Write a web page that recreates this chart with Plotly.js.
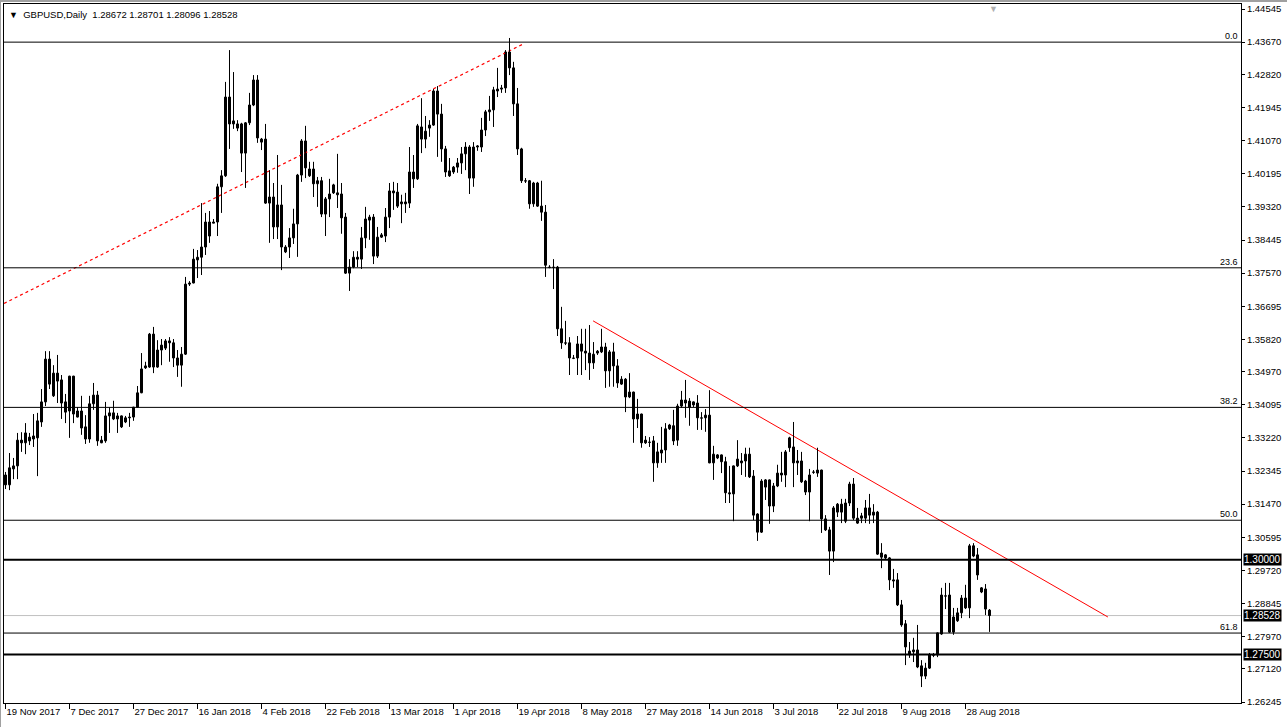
<!DOCTYPE html>
<html><head><meta charset="utf-8">
<script src="https://cdn.plot.ly/plotly-3.0.1.min.js"></script>
<style>
html,body{margin:0;padding:0;background:#fff;}
#wrap{position:relative;width:1287px;height:727px;overflow:hidden;}
#chart{position:absolute;left:0;top:0;width:1287px;height:727px;}
#frame{position:absolute;left:0;top:0;width:1287px;height:727px;box-sizing:border-box;border-top:2px solid #a0a0a0;border-left:1px solid #a0a0a0;pointer-events:none;}
</style></head>
<body><div id="wrap"><div id="chart"></div><div id="frame"></div></div>
<script>
const opens = [1.3224,1.3198,1.3240,1.3248,1.3316,1.3309,1.3314,1.3319,1.3322,1.3364,1.3417,1.3530,1.3433,1.3493,1.3475,1.3417,1.3393,1.3485,1.3377,1.3393,1.3351,1.3319,1.3412,1.3435,1.3309,1.3314,1.3380,1.3388,1.3372,1.3380,1.3364,1.3377,1.3377,1.3403,1.3441,1.3512,1.3509,1.3596,1.3509,1.3554,1.3559,1.3578,1.3573,1.3533,1.3514,1.3543,1.3731,1.3731,1.3792,1.3799,1.3826,1.3892,1.3892,1.3892,1.3985,1.4014,1.4222,1.4151,1.4140,1.4151,1.4074,1.4154,1.4201,1.4267,1.4103,1.4111,1.3942,1.3958,1.3879,1.3937,1.3813,1.3826,1.3850,1.3887,1.4016,1.4106,1.4014,1.4032,1.3993,1.4001,1.3913,1.3953,1.3990,1.3969,1.3966,1.3905,1.3757,1.3773,1.3799,1.3794,1.3850,1.3897,1.3905,1.3802,1.3852,1.3855,1.3905,1.3974,1.3971,1.3940,1.3945,1.3942,1.4024,1.4006,1.4143,1.4111,1.4140,1.4148,1.4238,1.4177,1.4085,1.4027,1.4024,1.4037,1.4048,1.4072,1.4090,1.4008,1.4090,1.4090,1.4135,1.4183,1.4188,1.4243,1.4243,1.4246,1.4341,1.4299,1.4204,1.4085,1.4001,1.4001,1.3940,1.3995,1.3934,1.3918,1.3773,1.3773,1.3773,1.3610,1.3573,1.3573,1.3533,1.3533,1.3570,1.3551,1.3546,1.3520,1.3546,1.3549,1.3562,1.3499,1.3549,1.3512,1.3464,1.3477,1.3430,1.3443,1.3372,1.3385,1.3316,1.3311,1.3314,1.3256,1.3282,1.3290,1.3346,1.3354,1.3316,1.3406,1.3422,1.3419,1.3417,1.3414,1.3375,1.3375,1.3382,1.3256,1.3269,1.3277,1.3259,1.3174,1.3174,1.3248,1.3256,1.3261,1.3279,1.3221,1.3121,1.3073,1.3192,1.3211,1.3142,1.3195,1.3229,1.3224,1.3322,1.3298,1.3256,1.3261,1.3208,1.3179,1.3232,1.3229,1.3237,1.3108,1.3079,1.3023,1.3126,1.3147,1.3102,1.3150,1.3200,1.3110,1.3116,1.3110,1.3137,1.3118,1.3126,1.3018,1.3013,1.3005,1.2947,1.2947,1.2881,1.2831,1.2749,1.2757,1.2762,1.2720,1.2693,1.2714,1.2749,1.2749,1.2804,1.2905,1.2907,1.2809,1.2839,1.2860,1.2899,1.2873,1.3037,1.3013,1.2915,1.2923,1.28672];
const highs = [1.3232,1.3282,1.3269,1.3335,1.3337,1.3361,1.3335,1.3385,1.3388,1.3451,1.3551,1.3551,1.3514,1.3541,1.3488,1.3438,1.3486,1.3486,1.3403,1.3433,1.3382,1.3433,1.3467,1.3446,1.3327,1.3417,1.3403,1.3420,1.3388,1.3381,1.3380,1.3388,1.3404,1.3459,1.3546,1.3523,1.3599,1.3615,1.3580,1.3583,1.3583,1.3588,1.3583,1.3554,1.3562,1.3747,1.3736,1.3821,1.3818,1.3942,1.3916,1.3921,1.3900,1.3993,1.4029,1.4262,1.4346,1.4288,1.4161,1.4154,1.4156,1.4233,1.4280,1.4280,1.4114,1.4151,1.4029,1.3995,1.4069,1.3990,1.3831,1.3876,1.3927,1.4019,1.4111,1.4146,1.4051,1.4051,1.4011,1.4011,1.3958,1.4006,1.3993,1.4072,1.3995,1.3916,1.3794,1.3815,1.3815,1.3879,1.3932,1.3911,1.3913,1.3879,1.3863,1.3929,1.3995,1.3998,1.3995,1.3964,1.3969,1.4090,1.4069,1.4151,1.4219,1.4172,1.4161,1.4243,1.4251,1.4204,1.4093,1.4061,1.4040,1.4061,1.4090,1.4103,1.4095,1.4103,1.4095,1.4167,1.4188,1.4225,1.4249,1.4299,1.4254,1.4346,1.4378,1.4315,1.4246,1.4088,1.4008,1.4003,1.3998,1.3998,1.4001,1.3937,1.3778,1.3794,1.3776,1.3668,1.3631,1.3588,1.3541,1.3591,1.3610,1.3610,1.3620,1.3575,1.3554,1.3610,1.3573,1.3554,1.3573,1.3530,1.3485,1.3480,1.3493,1.3444,1.3425,1.3386,1.3327,1.3324,1.3327,1.3309,1.3351,1.3361,1.3359,1.3396,1.3412,1.3446,1.3475,1.3427,1.3418,1.3435,1.3390,1.3398,1.3448,1.3301,1.3279,1.3278,1.3272,1.3248,1.3249,1.3316,1.3282,1.3296,1.3296,1.3237,1.3123,1.3213,1.3213,1.3212,1.3203,1.3251,1.3285,1.3290,1.3325,1.3364,1.3290,1.3285,1.3211,1.3240,1.3237,1.3296,1.3238,1.3118,1.3087,1.3142,1.3150,1.3161,1.3161,1.3206,1.3216,1.3137,1.3124,1.3158,1.3174,1.3147,1.3129,1.3044,1.3015,1.3007,1.2976,1.2965,1.2894,1.2841,1.2783,1.2794,1.2828,1.2735,1.2728,1.2754,1.2754,1.2808,1.2926,1.2939,1.2939,1.2873,1.2873,1.2907,1.2934,1.3042,1.3044,1.3031,1.2928,1.2936,1.28701];
const lows = [1.3187,1.3184,1.3213,1.3213,1.3285,1.3279,1.3303,1.3298,1.3221,1.3351,1.3406,1.3451,1.3430,1.3414,1.3372,1.3361,1.3322,1.3361,1.3376,1.3330,1.3306,1.3309,1.3396,1.3301,1.3308,1.3309,1.3335,1.3369,1.3335,1.3348,1.3361,1.3351,1.3367,1.3401,1.3440,1.3504,1.3507,1.3493,1.3507,1.3514,1.3554,1.3523,1.3509,1.3483,1.3457,1.3541,1.3723,1.3730,1.3744,1.3752,1.3805,1.3837,1.3889,1.3855,1.3916,1.4011,1.4085,1.4138,1.4132,1.4024,1.3982,1.4148,1.4198,1.4101,1.4082,1.3940,1.3837,1.3847,1.3847,1.3765,1.3810,1.3797,1.3834,1.3800,1.3998,1.4008,1.4011,1.3958,1.3932,1.3905,1.3855,1.3905,1.3966,1.3929,1.3861,1.3755,1.3710,1.3770,1.3773,1.3768,1.3823,1.3845,1.3781,1.3797,1.3850,1.3839,1.3876,1.3924,1.3929,1.3889,1.3916,1.3929,1.3982,1.4003,1.4074,1.4087,1.4117,1.4146,1.4064,1.4051,1.4011,1.4011,1.4019,1.4022,1.4019,1.4029,1.3966,1.3985,1.4080,1.4077,1.4119,1.4159,1.4143,1.4222,1.4233,1.4233,1.4280,1.4172,1.4069,1.3995,1.3995,1.3927,1.3932,1.3932,1.3895,1.3747,1.3770,1.3715,1.3591,1.3557,1.3567,1.3488,1.3530,1.3488,1.3488,1.3501,1.3475,1.3504,1.3541,1.3546,1.3454,1.3457,1.3457,1.3454,1.3462,1.3390,1.3427,1.3309,1.3348,1.3296,1.3306,1.3298,1.3206,1.3243,1.3256,1.3256,1.3343,1.3303,1.3301,1.3401,1.3375,1.3354,1.3403,1.3343,1.3343,1.3338,1.3255,1.3211,1.3266,1.3229,1.3150,1.3150,1.3102,1.3245,1.3224,1.3219,1.3216,1.3105,1.3050,1.3071,1.3158,1.3095,1.3126,1.3192,1.3206,1.3192,1.3285,1.3192,1.3224,1.3203,1.3171,1.3102,1.3227,1.3219,1.3071,1.3076,1.2960,1.2994,1.3113,1.3097,1.3097,1.3142,1.3105,1.3095,1.3097,1.3097,1.3095,1.3097,1.3013,1.2978,1.3002,1.2920,1.2926,1.2878,1.2823,1.2722,1.2741,1.2730,1.2714,1.2664,1.2685,1.2712,1.2743,1.2743,1.2802,1.2870,1.2807,1.2802,1.2836,1.2846,1.2870,1.2846,1.3007,1.2947,1.2912,1.2854,1.28096];
const closes = [1.3198,1.3243,1.3248,1.3316,1.3309,1.3335,1.3324,1.3327,1.3367,1.3417,1.3530,1.3464,1.3493,1.3472,1.3414,1.3390,1.3485,1.3385,1.3393,1.3348,1.3319,1.3412,1.3435,1.3314,1.3316,1.3380,1.3388,1.3372,1.3380,1.3351,1.3375,1.3375,1.3403,1.3441,1.3504,1.3507,1.3596,1.3509,1.3554,1.3567,1.3578,1.3573,1.3533,1.3514,1.3543,1.3728,1.3728,1.3794,1.3799,1.3826,1.3892,1.3855,1.3889,1.3985,1.4014,1.4222,1.4151,1.4159,1.4151,1.4074,1.4154,1.4201,1.4267,1.4114,1.4111,1.3942,1.3958,1.3879,1.3937,1.3826,1.3826,1.3850,1.3887,1.4016,1.4106,1.4035,1.4032,1.3993,1.4001,1.3913,1.3953,1.3966,1.3969,1.3964,1.3903,1.3757,1.3773,1.3799,1.3794,1.3850,1.3900,1.3905,1.3802,1.3852,1.3858,1.3905,1.3974,1.3969,1.3934,1.3945,1.3940,1.4024,1.4006,1.4146,1.4111,1.4132,1.4148,1.4238,1.4177,1.4085,1.4024,1.4014,1.4037,1.4048,1.4072,1.4090,1.4008,1.4090,1.4093,1.4135,1.4183,1.4188,1.4241,1.4238,1.4246,1.4341,1.4299,1.4204,1.4085,1.4001,1.4000,1.3940,1.3995,1.3934,1.3918,1.3778,1.3772,1.3772,1.3610,1.3573,1.3572,1.3533,1.3532,1.3570,1.3551,1.3546,1.3520,1.3543,1.3551,1.3562,1.3499,1.3549,1.3512,1.3467,1.3477,1.3430,1.3443,1.3372,1.3385,1.3309,1.3309,1.3310,1.3256,1.3285,1.3290,1.3346,1.3356,1.3314,1.3406,1.3422,1.3414,1.3403,1.3409,1.3375,1.3374,1.3382,1.3256,1.3279,1.3277,1.3259,1.3177,1.3177,1.3248,1.3266,1.3261,1.3279,1.3219,1.3118,1.3073,1.3208,1.3211,1.3142,1.3195,1.3229,1.3224,1.3285,1.3296,1.3256,1.3261,1.3206,1.3179,1.3224,1.3231,1.3237,1.3108,1.3079,1.3023,1.3137,1.3147,1.3126,1.3150,1.3200,1.3110,1.3097,1.3110,1.3137,1.3118,1.3126,1.3015,1.3007,1.3005,1.2947,1.2944,1.2881,1.2828,1.2770,1.2759,1.2762,1.2717,1.2693,1.2714,1.2749,1.2748,1.2807,1.2907,1.2904,1.2809,1.2849,1.2860,1.2899,1.2873,1.3037,1.3010,1.2960,1.2926,1.2870,1.28528];

const dateLabels = ['19 Nov 2017','7 Dec 2017','27 Dec 2017','16 Jan 2018','4 Feb 2018','22 Feb 2018','13 Mar 2018','1 Apr 2018','19 Apr 2018','8 May 2018','27 May 2018','14 Jun 2018','3 Jul 2018','22 Jul 2018','9 Aug 2018','28 Aug 2018'];
const dateBars = [0,16,32,48,64,80,96,112,128,144,160,176,192,208,224,240];
const priceTicks = [1.44545,1.43670,1.42820,1.41945,1.41070,1.40195,1.39320,1.38445,1.37570,1.36695,1.35820,1.34970,1.34095,1.33220,1.32345,1.31470,1.30595,1.29720,1.28845,1.27970,1.27120,1.26245];
const fibNames = ['0.0','23.6','38.2','50.0','61.8'];
const fibPrices = [1.43670,1.37711,1.34025,1.31045,1.28066];
const roundLevels = [1.30000,1.27500];
const lastPrice = 1.28528;
const upTrendX = [-0.375,129.4], upTrendY = [1.3677,1.4362];
const downTrendX = [146.9,275.6], downTrendY = [1.3631,1.2849];
const symbolText = 'GBPUSD,Daily';

const idx = opens.map((_, i) => i);
const wx = [], wy = [];
idx.forEach(i => { wx.push(i, i, null); wy.push(lows[i], highs[i], null); });
const base = idx.map(i => Math.min(opens[i], closes[i]));
const hgt = idx.map(i => Math.max(Math.abs(closes[i] - opens[i]), 0.00002));
const fill = idx.map(i => closes[i] >= opens[i] ? '#ffffff' : '#000000');

const traces = [
  {type:'scatter', mode:'lines', x:upTrendX, y:upTrendY, line:{color:'#ff0000', width:1.2, dash:'dot'}, hoverinfo:'skip'},
  {type:'scatter', mode:'lines', x:downTrendX, y:downTrendY, line:{color:'#ff0000', width:1}, hoverinfo:'skip'},
  {type:'scatter', mode:'lines', x:wx, y:wy, line:{color:'#000000', width:1}, hoverinfo:'skip', connectgaps:false},
  {type:'bar', x:idx, base:base, y:hgt, width:0.5, marker:{color:fill, line:{color:'#000000', width:1}}, hoverinfo:'skip'}
];

const shapes = [];
fibPrices.forEach(p => shapes.push({type:'line', xref:'paper', x0:0, x1:1, yref:'y', y0:p, y1:p, line:{color:'#000000', width:1}}));
roundLevels.forEach(p => shapes.push({type:'line', xref:'paper', x0:0, x1:1, yref:'y', y0:p, y1:p, line:{color:'#000000', width:2}}));
shapes.push({type:'line', xref:'paper', x0:0, x1:1, yref:'y', y0:lastPrice, y1:lastPrice, line:{color:'#c0c0c0', width:1}, layer:'below'});

const annotations = [];
fibNames.forEach((n, k) => annotations.push({xref:'paper', x:1, xanchor:'right', xshift:-1, yref:'y', y:fibPrices[k], yanchor:'bottom', yshift:-1, text:n, showarrow:false, font:{size:9, color:'#000000'}}));
roundLevels.concat([lastPrice]).forEach(p => annotations.push({xref:'paper', x:1, xanchor:'left', xshift:2, yref:'y', y:p, yanchor:'middle', text:p.toFixed(5), showarrow:false, bgcolor:'#000000', borderpad:0, font:{size:10, color:'#ffffff'}}));
annotations.push({xref:'paper', x:0, xanchor:'left', xshift:3, yref:'paper', y:1, yanchor:'top', yshift:-3, showarrow:false,
  text:'<span style="font-size:9px">▼</span>\u00a0\u00a0' + symbolText + '\u00a0\u00a0' + [opens[246], highs[246], lows[246], closes[246]].map(v => v.toFixed(5)).join('\u00a0'),
  font:{size:9.5, color:'#000000'}});
annotations.push({xref:'paper', x:(993-4)/1237, xanchor:'center', yref:'paper', y:1, yanchor:'top', yshift:2, showarrow:false, text:'▼', font:{size:9, color:'#b0b0b0'}});

const layout = {
  width:1287, height:727,
  margin:{l:4, r:46, t:4, b:24, pad:0},
  paper_bgcolor:'#ffffff', plot_bgcolor:'#ffffff',
  showlegend:false, hovermode:false,
  font:{family:'"Liberation Sans", Arial, sans-serif', size:9, color:'#000000'},
  xaxis:{range:[-0.375, 308.875], tickvals:dateBars, ticktext:dateLabels, ticks:'outside', ticklen:5, tickcolor:'#000000',
         ticklabelposition:'outside right', showline:true, mirror:true, linecolor:'#000000', linewidth:1,
         showgrid:false, zeroline:false, tickfont:{size:9.5}, fixedrange:true},
  yaxis:{side:'right', range:[1.26219, 1.44677], tickvals:priceTicks, ticktext:priceTicks.map(v => v.toFixed(5)),
         ticks:'outside', ticklen:3, tickcolor:'#000000', showline:true, mirror:true, linecolor:'#000000', linewidth:1,
         showgrid:false, zeroline:false, tickfont:{size:9.5}, fixedrange:true},
  shapes:shapes, annotations:annotations, bargap:0
};
Plotly.newPlot('chart', traces, layout, {staticPlot:true, displayModeBar:false});
</script></body></html>
